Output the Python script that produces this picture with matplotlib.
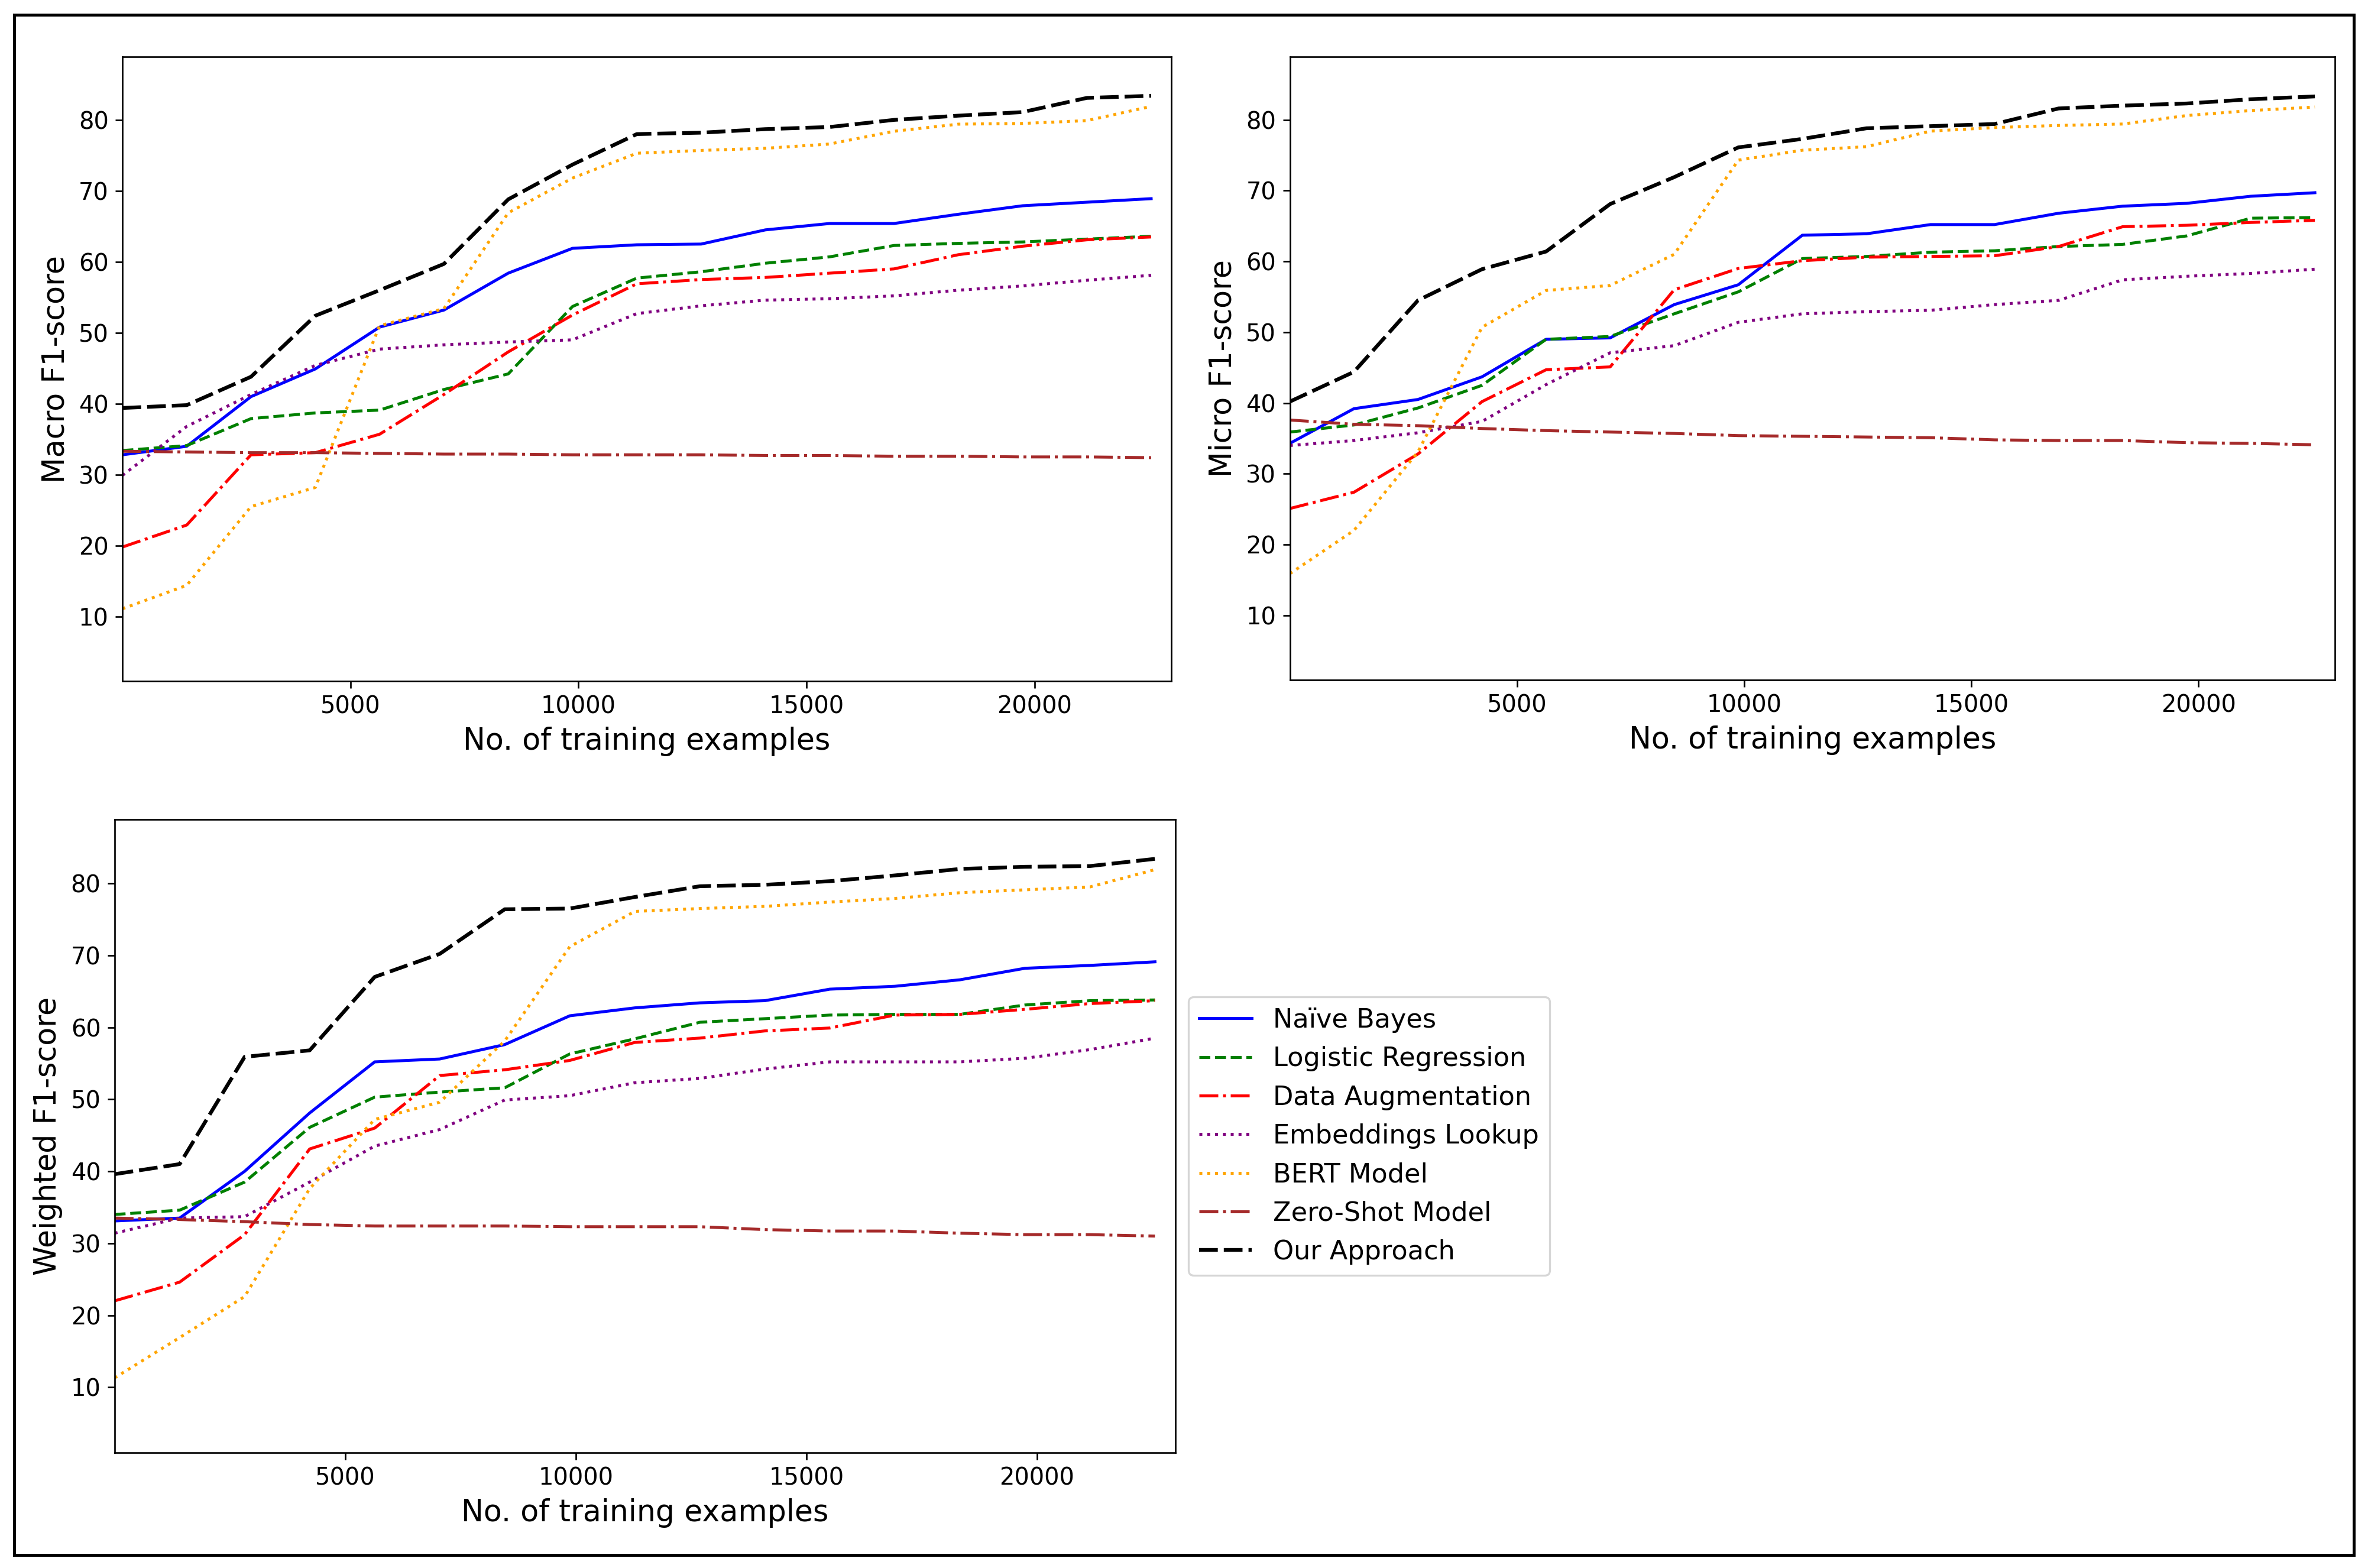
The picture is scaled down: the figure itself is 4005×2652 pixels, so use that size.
import numpy as np
import matplotlib
matplotlib.use('Agg')
import matplotlib.pyplot as plt
from matplotlib.patches import Rectangle

# Nombre de ejemplos de entrenamiento
n_train = [0, 1410, 2820, 4230, 5640, 7050, 8460, 9870, 11280,
           12690, 14100, 15510, 16920, 18330, 19740, 21150, 22560]

methods = ['Naïve Bayes', 'Logistic Regression', 'Data Augmentation',
           'Embeddings Lookup', 'BERT Model', 'Zero-Shot Model', 'Our Approach']
colors = ['blue', 'green', 'red', 'purple', 'orange', 'brown', 'black']
styles = ['-', '--', '-.', ':', ':', '-.', (0, (5, 1.6))]
widths = [1.5, 1.5, 1.5, 1.5, 1.5, 1.5, 1.9]

# Macro F1
macro_nb = [32.8, 34.0, 41.0, 44.9, 50.8, 53.2, 58.4, 61.9, 62.4, 62.5, 64.5, 65.4, 65.4, 66.7, 67.9, 68.4, 68.9]
macro_lr = [33.4, 34.1, 37.9, 38.7, 39.1, 42.0, 44.2, 53.7, 57.7, 58.6, 59.8, 60.7, 62.3, 62.6, 62.8, 63.2, 63.6]
macro_da = [19.8, 22.9, 32.8, 33.1, 35.7, 41.3, 47.3, 52.5, 56.9, 57.5, 57.8, 58.4, 59.0, 61.0, 62.2, 63.1, 63.5]
macro_emb = [29.9, 36.8, 41.3, 45.4, 47.7, 48.3, 48.7, 49.0, 52.7, 53.8, 54.6, 54.8, 55.2, 56.0, 56.6, 57.4, 58.1]
macro_bert = [11.1, 14.4, 25.5, 28.2, 51.0, 53.4, 66.9, 71.8, 75.3, 75.7, 76.0, 76.6, 78.4, 79.4, 79.5, 79.9, 81.9]
macro_zs = [33.3, 33.2, 33.1, 33.1, 33.0, 32.9, 32.9, 32.8, 32.8, 32.8, 32.7, 32.7, 32.6, 32.6, 32.5, 32.5, 32.4]
macro_ours = [39.4, 39.8, 43.8, 52.4, 56.0, 59.7, 68.8, 73.7, 78.0, 78.2, 78.7, 79.0, 80.0, 80.6, 81.1, 83.1, 83.4]

# Micro F1
micro_nb = [34.3, 39.2, 40.5, 43.7, 49.0, 49.2, 53.9, 56.7, 63.7, 63.9, 65.2, 65.2, 66.8, 67.8, 68.2, 69.2, 69.7]
micro_lr = [35.9, 36.9, 39.3, 42.5, 49.0, 49.4, 52.6, 55.7, 60.4, 60.7, 61.3, 61.5, 62.1, 62.4, 63.6, 66.1, 66.2]
micro_da = [25.1, 27.4, 32.8, 40.2, 44.7, 45.1, 56.0, 59.0, 60.1, 60.6, 60.7, 60.8, 62.1, 64.9, 65.1, 65.5, 65.8]
micro_emb = [34.0, 34.7, 35.8, 37.4, 42.6, 47.1, 48.1, 51.4, 52.6, 52.9, 53.1, 53.9, 54.5, 57.4, 57.9, 58.3, 58.9]
micro_bert = [15.9, 22.0, 33.1, 50.7, 55.9, 56.6, 61.0, 74.3, 75.7, 76.2, 78.4, 78.9, 79.2, 79.4, 80.6, 81.3, 81.8]
micro_zs = [37.6, 37.0, 36.8, 36.4, 36.1, 35.9, 35.7, 35.4, 35.3, 35.2, 35.1, 34.8, 34.7, 34.7, 34.4, 34.3, 34.1]
micro_ours = [40.2, 44.4, 54.5, 58.9, 61.4, 68.1, 71.9, 76.1, 77.3, 78.8, 79.1, 79.4, 81.6, 82.0, 82.3, 82.9, 83.3]

# Weighted F1
weighted_nb = [33.1, 33.5, 40.0, 48.1, 55.2, 55.6, 57.6, 61.6, 62.7, 63.4, 63.7, 65.3, 65.7, 66.6, 68.2, 68.6, 69.1]
weighted_lr = [34.0, 34.6, 38.5, 46.1, 50.3, 51.0, 51.6, 56.3, 58.4, 60.7, 61.2, 61.7, 61.8, 61.8, 63.1, 63.7, 63.8]
weighted_da = [22.0, 24.6, 31.2, 43.1, 46.0, 53.3, 54.1, 55.4, 57.9, 58.5, 59.5, 59.9, 61.7, 61.8, 62.5, 63.3, 63.7]
weighted_emb = [31.4, 33.5, 33.7, 38.5, 43.5, 45.8, 49.9, 50.5, 52.3, 52.9, 54.2, 55.2, 55.2, 55.2, 55.7, 56.9, 58.5]
weighted_bert = [11.3, 16.9, 22.6, 37.6, 47.2, 49.6, 58.1, 71.2, 76.1, 76.5, 76.8, 77.4, 77.9, 78.7, 79.1, 79.5, 81.9]
weighted_zs = [33.5, 33.3, 33.0, 32.6, 32.4, 32.4, 32.4, 32.3, 32.3, 32.3, 31.9, 31.7, 31.7, 31.4, 31.2, 31.2, 31.0]
weighted_ours = [39.6, 41.0, 55.9, 56.8, 67.0, 70.2, 76.4, 76.5, 78.1, 79.6, 79.8, 80.3, 81.1, 82.0, 82.3, 82.4, 83.4]

macro = [macro_nb, macro_lr, macro_da, macro_emb, macro_bert, macro_zs, macro_ours]
micro = [micro_nb, micro_lr, micro_da, micro_emb, micro_bert, micro_zs, micro_ours]
weighted = [weighted_nb, weighted_lr, weighted_da, weighted_emb, weighted_bert, weighted_zs, weighted_ours]

fig = plt.figure(figsize=(4005 / 240, 2652 / 240), dpi=240)

ax1 = fig.add_axes([0.0517, 0.5656, 0.4429, 0.3982])
ax2 = fig.add_axes([0.5447, 0.5664, 0.4413, 0.3974])
ax3 = fig.add_axes([0.0484, 0.0735, 0.4479, 0.4040])

panels = [(ax1, macro, 'Macro F1-score'),
          (ax2, micro, 'Micro F1-score'),
          (ax3, weighted, 'Weighted F1-score')]

for ax, scores, ylabel in panels:
    for vals, name, c, ls, lw in zip(scores, methods, colors, styles, widths):
        ax.plot(n_train, vals, label=name, color=c, linestyle=ls, linewidth=lw)
    ax.set_xlim(0, 23000)
    ax.set_ylim(0.9, 88.9)
    ax.set_xticks([5000, 10000, 15000, 20000])
    ax.set_yticks([10, 20, 30, 40, 50, 60, 70, 80])
    ax.tick_params(labelsize=12)
    ax.set_xlabel('No. of training examples', fontsize=15.2)
    ax.set_ylabel(ylabel, fontsize=15.2)

ax3.legend(loc='center left', bbox_to_anchor=(1, 0.5), fontsize=13.4)

# Marco negro alrededor de la figura
fig.patches.append(Rectangle((0.0061, 0.0083), 0.988, 0.9823, transform=fig.transFigure,
                             fill=False, edgecolor='black', linewidth=1.5))

fig.savefig('out.png', dpi=240)
